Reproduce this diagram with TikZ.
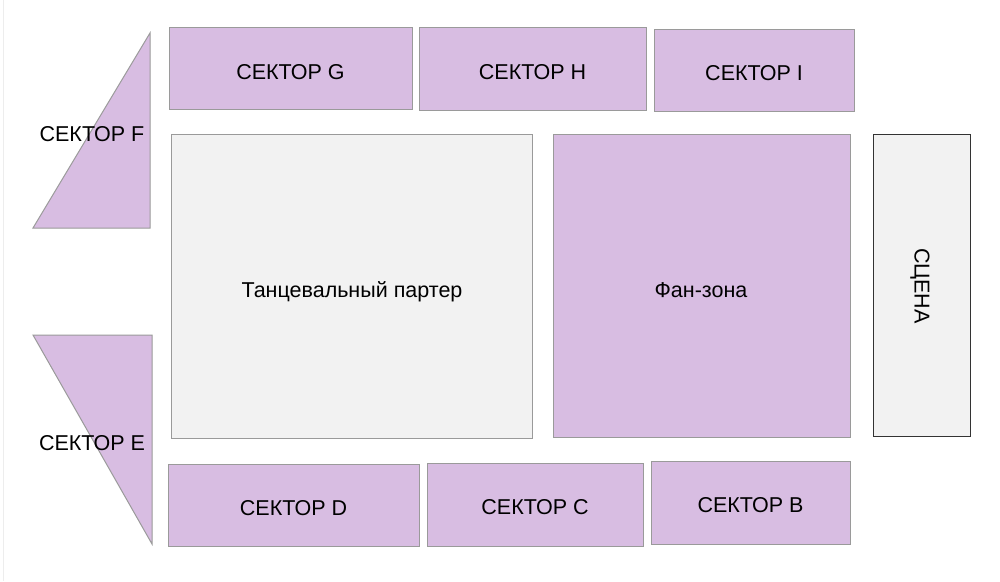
\documentclass[tikz,border=0pt]{standalone}
\usepackage{fontspec}
\setmainfont{Liberation Sans}
\definecolor{sector}{HTML}{D8BDE2}
\definecolor{sectorline}{HTML}{9A9A9A}
\definecolor{lightfill}{HTML}{F2F2F2}
\definecolor{stageline}{HTML}{333333}
\tikzset{
  sectorbox/.style={draw=sectorline, fill=sector, line width=1pt},
  greybox/.style={draw=sectorline, fill=lightfill, line width=1pt},
  stagebox/.style={draw=stageline, fill=lightfill, line width=1pt},
  lbl/.style={font=\fontsize{21.5}{25}\selectfont, inner sep=0pt, text=black},
}
\begin{document}
\begin{tikzpicture}[x=1pt,y=-1pt]
\useasboundingbox[fill=white] (0,0) rectangle (1000,581);
\draw[color=black!7, line width=1pt] (3,0) -- (3,581);
% triangles
\filldraw[sectorbox] (150,33) -- (150,228) -- (33,228) -- cycle;
\filldraw[sectorbox] (33,335) -- (152,335) -- (152,544) -- cycle;
\node[lbl] (f) at (92,134) {СЕКТОР F};
\node[lbl] (e) at (92,443) {СЕКТОР E};
% top row
\filldraw[sectorbox] (169,27) rectangle (412,109);
\node[lbl] (g) at (290.5,72) {СЕКТОР G};
\filldraw[sectorbox] (419,27) rectangle (646,110);
\node[lbl] (h) at (532.5,72) {СЕКТОР H};
\filldraw[sectorbox] (654,29) rectangle (854,111);
\node[lbl] (i) at (754,73) {СЕКТОР I};
% middle
\filldraw[greybox] (171,134) rectangle (532,438);
\node[lbl] (parter) at (352,292) {Танцевальный партер};
\filldraw[sectorbox] (553,134) rectangle (850,437);
\node[lbl] (fan) at (701,290) {Фан-зона};
\filldraw[stagebox] (873,134) rectangle (970,436);
\node[lbl, rotate=-90] (stage) at (920,286) {СЦЕНА};
% bottom row
\filldraw[sectorbox] (168,464) rectangle (419,546);
\node[lbl] (d) at (293.5,508) {СЕКТОР D};
\filldraw[sectorbox] (427,463) rectangle (643,546);
\node[lbl] (c) at (535,507) {СЕКТОР C};
\filldraw[sectorbox] (651,461) rectangle (850,544);
\node[lbl] (b) at (750.5,505) {СЕКТОР B};
\end{tikzpicture}
\end{document}
